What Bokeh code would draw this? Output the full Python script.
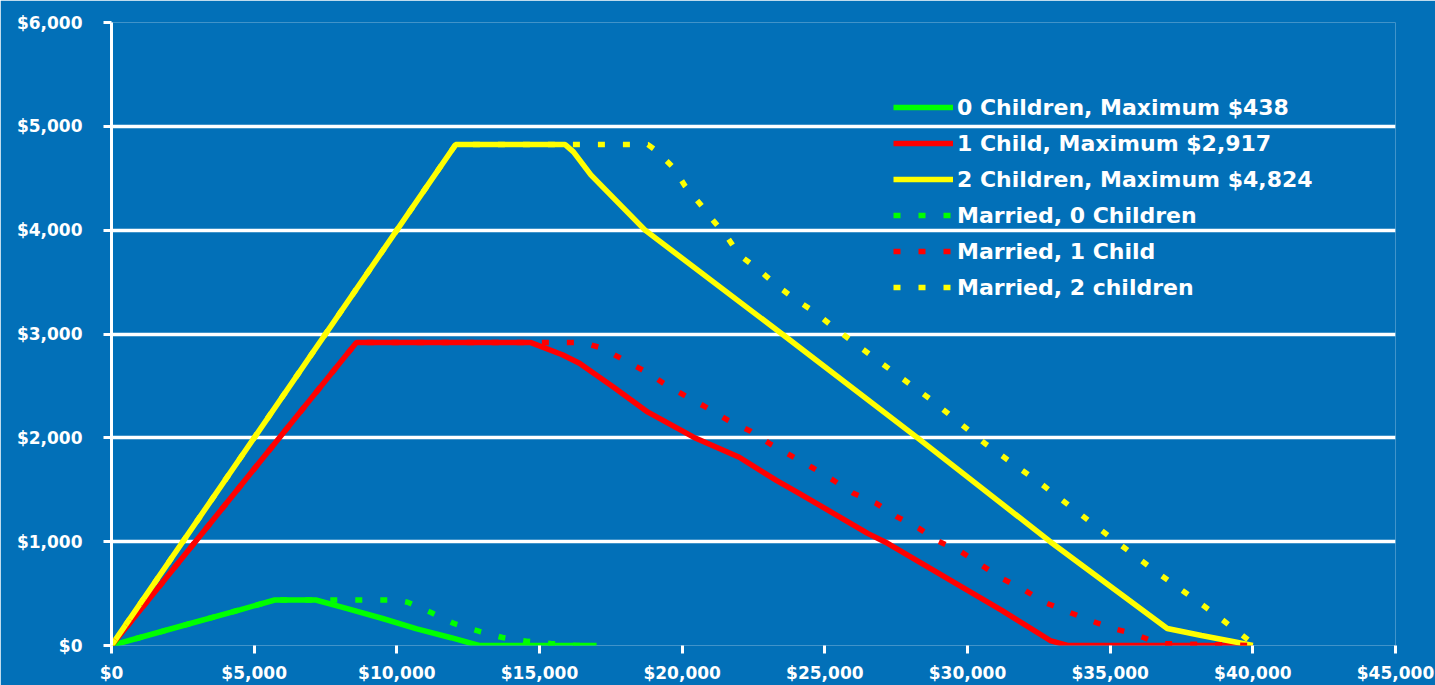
from bokeh.plotting import figure
from bokeh.models import (Legend, LegendItem, FixedTicker, NumeralTickFormatter)
from bokeh.embed import file_html
from bokeh.resources import INLINE

# ---------------- data ----------------
x_ticks = [0, 5000, 10000, 15000, 20000, 25000, 30000, 35000, 40000, 45000]
y_ticks = [0, 1000, 2000, 3000, 4000, 5000, 6000]

single0_x = [0, 1000, 2700, 4500, 5720, 7160, 8200, 9500, 10700, 11900, 12880, 17000]
single0_y = [0, 77, 207, 344, 438, 438, 360, 260, 160, 75, 0, 0]

single1_x = [0, 8580, 14700, 15800, 16400, 17600, 18800, 20400, 22000, 23300,
             24100, 25300, 26500, 27200, 31200, 32900, 33500, 40000]
single1_y = [0, 2917, 2917, 2800, 2719, 2488, 2247, 2006, 1813, 1591,
             1466, 1273, 1080, 984, 338, 48, 0, 0]

single2_x = [0, 12060, 15900, 16190, 16800, 17900, 18700, 23500,
             28250, 32900, 37000, 38200, 39300, 40000]
single2_y = [0, 4824, 4824, 4754, 4532, 4224, 4000, 3000,
             2000, 1000, 164, 96, 39, 0]

married0_x = [0, 1000, 2700, 4500, 5720, 10000, 10400, 11200, 12000, 12900,
              13700, 14600, 15400, 16300, 17000]
married0_y = [0, 77, 207, 344, 438, 438, 415, 318, 212, 135,
              77, 40, 20, 0, 0]

married1_x = [0, 8580, 16500, 17200, 17900, 18750, 19500, 20200, 20900, 21600,
              22400, 23100, 24600, 25300, 26000, 26800, 27500, 28300, 28900,
              29700, 31200, 31900, 32700, 33500, 34300, 35100, 35900, 36700, 40000]
married1_y = [0, 2917, 2917, 2864, 2758, 2633, 2498, 2391, 2285, 2170,
              2064, 1938, 1707, 1591, 1466, 1369, 1244, 1128, 1013,
              916, 646, 550, 415, 328, 241, 164, 106, 19, 0]

married2_x = [0, 12060, 18800, 19100, 19700, 20100, 20600, 21100, 21600, 22000,
              22700, 23300, 24000, 24700, 25300, 26700, 28700, 30600, 32600,
              34600, 36500, 38600, 40000]
married2_y = [0, 4824, 4824, 4764, 4600, 4426, 4262, 4089, 3925, 3761,
              3616, 3471, 3327, 3201, 3066, 2777, 2372, 1948, 1553,
              1128, 733, 318, 20]

labels = ["0 Children, Maximum $438", "1 Child, Maximum $2,917",
          "2 Children, Maximum $4,824", "Married, 0 Children",
          "Married, 1 Child", "Married, 2 children"]

# ---------------- styling ----------------
BG = "#0270B8"
GREEN, RED, YELLOW = "#00FF00", "#FF0000", "#FFFF00"
FONT = "DejaVu Sans"

p = figure(frame_width=1284, frame_height=623, x_range=(0, 45000), y_range=(0, 6000),
           output_backend="svg", toolbar_location=None,
           min_border_left=111, min_border_right=40,
           min_border_top=22, min_border_bottom=20)

p.background_fill_color = BG
p.border_fill_color = BG
p.outline_line_color = None

p.xgrid.grid_line_color = None
p.ygrid.grid_line_color = "white"
p.ygrid.grid_line_width = 3.5
p.ygrid.ticker = FixedTicker(ticks=y_ticks)

for ax in (p.xaxis[0], p.yaxis[0]):
    ax.major_label_text_color = "white"
    ax.major_label_text_font = FONT
    ax.major_label_text_font_style = "bold"
    ax.major_label_text_font_size = "17px"
    ax.major_tick_line_color = "white"
    ax.major_tick_line_width = 3
    ax.major_tick_in = 0
    ax.major_tick_out = 8
    ax.minor_tick_line_color = None
    ax.formatter = NumeralTickFormatter(format="$0,0")

p.xaxis.ticker = FixedTicker(ticks=x_ticks)
p.yaxis.ticker = FixedTicker(ticks=y_ticks)
p.xaxis.axis_line_color = None
p.yaxis.axis_line_color = "white"
p.yaxis.axis_line_width = 3
p.yaxis.major_label_standoff = 21
p.xaxis.major_label_standoff = 9

LW = 5.5
DASH = "7 18"
r0 = p.line(single0_x, single0_y, line_color=GREEN, line_width=LW)
r1 = p.line(single1_x, single1_y, line_color=RED, line_width=LW)
r2 = p.line(single2_x, single2_y, line_color=YELLOW, line_width=LW)
r3 = p.line(married0_x, married0_y, line_color=GREEN, line_width=LW, line_dash=DASH)
r4 = p.line(married1_x, married1_y, line_color=RED, line_width=LW, line_dash=DASH)
r5 = p.line(married2_x, married2_y, line_color=YELLOW, line_width=LW, line_dash=DASH)

legend = Legend(items=[LegendItem(label=l, renderers=[r])
                       for l, r in zip(labels, [r0, r1, r2, r3, r4, r5])],
                location=(782, 345))
legend.background_fill_alpha = 0
legend.border_line_color = None
legend.padding = 0
legend.margin = 0
legend.spacing = 10
legend.glyph_width = 60
legend.glyph_height = 26
legend.label_height = 26
legend.label_standoff = 4
legend.label_text_color = "white"
legend.label_text_font = FONT
legend.label_text_font_style = "bold"
legend.label_text_font_size = "22px"
p.add_layout(legend)

open("out.html", "w").write(file_html(p, INLINE))
